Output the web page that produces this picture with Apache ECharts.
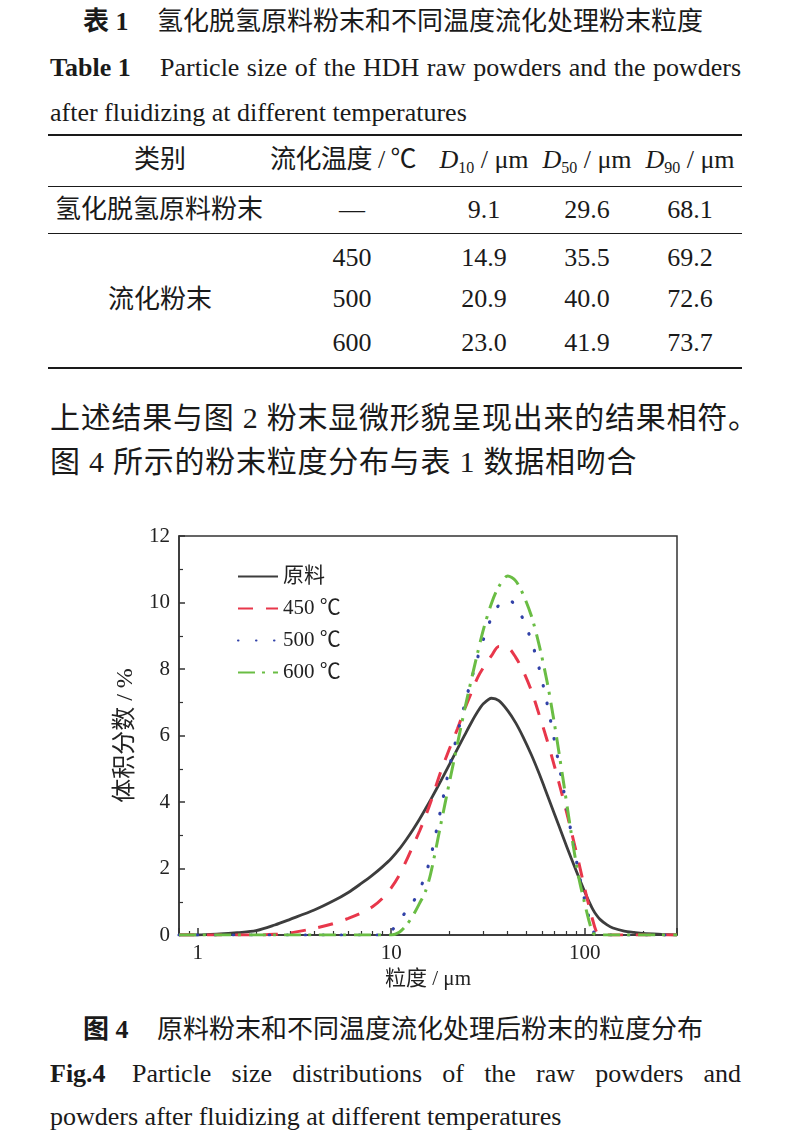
<!DOCTYPE html>
<html><head><meta charset="utf-8">
<script src="https://cdn.jsdelivr.net/npm/echarts@6/dist/echarts.min.js"></script>
<style>
html,body{margin:0;padding:0;background:#fff;}
body{width:792px;height:1138px;position:relative;overflow:hidden;font-family:"Liberation Serif","Times New Roman","Noto Sans CJK SC",serif;color:#1a1a1a;}
.t{position:absolute;white-space:nowrap;line-height:1;font-size:26px;}
.c{transform:translate(-50%,-50%);}
.l{transform:translate(0,-50%);}
.j{text-align:justify;text-align-last:justify;white-space:normal;}
.b{font-weight:bold;}
.rule{position:absolute;left:48px;width:694px;background:#1a1a1a;}
sub{font-size:16px;vertical-align:-5px;line-height:0;}
#chart{position:absolute;left:0;top:500px;width:792px;height:510px;}
</style></head>
<body>
<div id="page"></div>
<div id="chart"></div>
<script>
// ---------- table data ----------
const tableHeaders = ['类别', '流化温度 / ℃', '<i>D</i><sub>10</sub> / μm', '<i>D</i><sub>50</sub> / μm', '<i>D</i><sub>90</sub> / μm'];
const rawLabel = '氢化脱氢原料粉末';
const rawRow = ['—', '9.1', '29.6', '68.1'];
const fluidLabel = '流化粉末';
const fluidTemps = ['450', '500', '600'];
const fluidD10 = ['14.9', '20.9', '23.0'];
const fluidD50 = ['35.5', '40.0', '41.9'];
const fluidD90 = ['69.2', '72.6', '73.7'];

// ---------- chart data ----------
const sizes = [0.8, 1, 1.3, 1.6, 2, 2.5, 3, 4, 5, 6, 7, 8, 9, 10, 11, 12, 13, 14, 15, 16, 18, 20, 22, 24, 26, 28, 30, 33, 36, 40, 44, 48, 53, 58, 64, 70, 77, 85, 93, 100, 105, 110, 115, 120, 130, 140, 160, 180, 200, 250, 300];
const rawPct = [0, 0, 0.03, 0.07, 0.13, 0.3, 0.47, 0.75, 1.02, 1.28, 1.55, 1.8, 2.05, 2.3, 2.58, 2.88, 3.18, 3.48, 3.78, 4.07, 4.62, 5.13, 5.6, 6.02, 6.4, 6.72, 6.96, 7.12, 7.05, 6.75, 6.38, 5.96, 5.42, 4.87, 4.22, 3.62, 2.98, 2.32, 1.75, 1.3, 1.02, 0.78, 0.6, 0.47, 0.31, 0.21, 0.12, 0.08, 0.05, 0.02, 0];
const t450Pct = [0, 0, 0, 0, 0, 0.02, 0.06, 0.2, 0.34, 0.5, 0.66, 0.85, 1.1, 1.42, 1.8, 2.25, 2.7, 3.12, 3.55, 4.0, 4.9, 5.6, 6.2, 6.8, 7.3, 7.75, 8.05, 8.4, 8.68, 8.65, 8.35, 7.95, 7.35, 6.65, 5.85, 5.05, 4.15, 3.15, 2.2, 1.4, 0.9, 0.45, 0.1, 0, 0, 0, 0, 0, 0, 0, 0];
const t500Pct = [0, 0, 0, 0, 0, 0, 0, 0, 0, 0, 0, 0, 0, 0.12, 0.45, 0.72, 1.0, 1.35, 1.8, 2.35, 3.75, 5.05, 6.05, 6.95, 7.7, 8.35, 8.9, 9.55, 9.92, 10.1, 9.9, 9.5, 8.85, 8.05, 6.95, 5.8, 4.5, 3.1, 1.9, 1.05, 0.55, 0.15, 0, 0, 0, 0, 0, 0, 0, 0, 0];
const t600Pct = [0, 0, 0, 0, 0, 0, 0, 0, 0, 0, 0, 0, 0, 0, 0.08, 0.3, 0.6, 0.95, 1.3, 1.85, 3.3, 4.6, 5.75, 6.8, 7.7, 8.5, 9.2, 9.98, 10.48, 10.8, 10.65, 10.25, 9.6, 8.75, 7.6, 6.3, 4.75, 3.1, 1.75, 0.95, 0.45, 0.08, 0, 0, 0, 0, 0, 0, 0, 0, 0];
const seriesNames = ['原料', '450 ℃', '500 ℃', '600 ℃'];
const xTickLabels = ['1', '10', '100'];
const yTickLabels = ['0', '2', '4', '6', '8', '10', '12'];

// ---------- page text ----------
const page = document.getElementById('page');
function add(html, cls, style) {
  const d = document.createElement('div');
  d.className = 't ' + cls;
  d.innerHTML = html;
  Object.assign(d.style, style);
  page.appendChild(d);
  return d;
}
function rule(top, h) {
  const d = document.createElement('div');
  d.className = 'rule';
  d.style.top = top + 'px';
  d.style.height = h + 'px';
  page.appendChild(d);
}
add('表 1', 'l b', {left: '83px', top: '22px'});
add('氢化脱氢原料粉末和不同温度流化处理粉末粒度', 'l', {left: '157px', top: '22px'});
add('Table 1', 'l b', {left: '50px', top: '68px'});
add('Particle size of the HDH raw powders and the powders', 'l j', {left: '160px', top: '68px', width: '581px'});
add('after fluidizing at different temperatures', 'l', {left: '50px', top: '113px'});

rule(134, 2.2); rule(185.5, 1.3); rule(232.5, 1.3); rule(367, 2.2);
const colX = [160, 343, 484, 587, 690];
const valX = [352, 484, 587, 690];
tableHeaders.forEach((h, i) => add(h, 'c', {left: colX[i] + 'px', top: '160px', letterSpacing: i === 1 ? '-0.5px' : '0'}));
add(rawLabel, 'c', {left: '159px', top: '210px'});
rawRow.forEach((v, i) => add(v, 'c', {left: valX[i] + 'px', top: '210px'}));
add(fluidLabel, 'c', {left: '160px', top: '300px'});
const rowY = [258, 299, 343];
fluidTemps.forEach((tmp, r) => {
  [tmp, fluidD10[r], fluidD50[r], fluidD90[r]].forEach((v, i) => add(v, 'c', {left: valX[i] + 'px', top: rowY[r] + 'px'}));
});

add('上述结果与图 2 粉末显微形貌呈现出来的结果相符。', 'l', {left: '50px', top: '418px', fontSize: '30px', letterSpacing: '0.75px'});
add('图 4 所示的粉末粒度分布与表 1 数据相吻合', 'l', {left: '50px', top: '462px', fontSize: '30px', letterSpacing: '0.75px'});

add('图 4', 'l b', {left: '83px', top: '1030px'});
add('原料粉末和不同温度流化处理后粉末的粒度分布', 'l', {left: '157px', top: '1030px'});
add('Fig.4', 'l b', {left: '50px', top: '1074px'});
add('Particle size distributions of the raw powders and', 'l j', {left: '132px', top: '1074px', width: '609px'});
add('powders after fluidizing at different temperatures', 'l', {left: '50px', top: '1117px'});

// ---------- chart ----------
const FONT = '"Liberation Serif","Times New Roman","Noto Sans CJK SC",serif';
const chart = echarts.init(document.getElementById('chart'), null, {renderer: 'canvas'});
function pairs(vals) { return sizes.map((s, i) => [s, vals[i]]); }
const styles = [
  {color: '#3d3d3d', type: 'solid', width: 2.8, cap: 'butt'},
  {color: '#e8374b', type: [15, 13], width: 3, cap: 'butt'},
  {color: '#3242a8', type: [0.5, 17.5], width: 3.2, cap: 'round'},
  {color: '#6abd44', type: [17, 7, 3, 8], width: 3, cap: 'butt'}
];
const dataSets = [rawPct, t450Pct, t500Pct, t600Pct];
const option = {
  animation: false,
  grid: {left: 179, right: 115, top: 36, bottom: 75, show: true, borderColor: '#333', borderWidth: 1.5},
  legend: {
    orient: 'vertical', left: 232, top: 61, itemWidth: 40, itemHeight: 14, itemGap: 11,
    itemStyle: {opacity: 0},
    textStyle: {fontFamily: FONT, fontSize: 21, color: '#222'},
    data: seriesNames
  },
  xAxis: {
    type: 'log', logBase: 10, min: 0.8, max: 300,
    name: '粒度 / μm', nameLocation: 'middle', nameGap: 34,
    nameTextStyle: {fontFamily: FONT, fontSize: 21, color: '#222'},
    axisLine: {lineStyle: {color: '#333', width: 1.5}},
    axisTick: {inside: true, length: 7, lineStyle: {color: '#333', width: 1.5}},
    minorTick: {show: true, splitNumber: 9, length: 4, lineStyle: {color: '#333', width: 1.2}},
    axisLabel: {
      showMinLabel: false, showMaxLabel: false, margin: 8,
      fontFamily: FONT, fontSize: 21, color: '#222',
      formatter: v => (xTickLabels.indexOf(String(v)) >= 0 ? String(v) : '')
    },
    splitLine: {show: false}
  },
  yAxis: {
    type: 'value', min: 0, max: 12, interval: 2,
    name: '体积分数 / %', nameLocation: 'middle', nameGap: 40, nameRotate: 90,
    nameTextStyle: {fontFamily: FONT, fontSize: 24, color: '#222'},
    axisLine: {show: true, lineStyle: {color: '#333', width: 1.5}},
    axisTick: {show: true, inside: true, length: 6, lineStyle: {color: '#333', width: 1.5}},
    minorTick: {show: true, splitNumber: 2, length: 4, lineStyle: {color: '#333', width: 1.2}},
    axisLabel: {margin: 9, fontFamily: FONT, fontSize: 21, color: '#222',
      formatter: v => yTickLabels[Math.round(v / 2)]},
    splitLine: {show: false}
  },
  series: seriesNames.map((n, i) => ({
    name: n, type: 'line', data: pairs(dataSets[i]),
    symbol: 'none', smooth: 0.3,
    color: styles[i].color,
    lineStyle: styles[i],
    z: 2 + i
  }))
};
chart.setOption(option);
</script>
</body></html>
